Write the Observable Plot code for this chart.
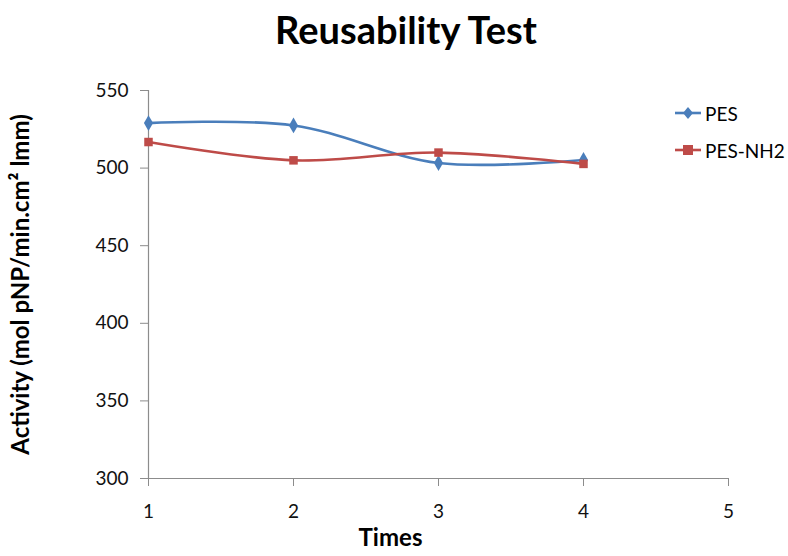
<!DOCTYPE html>
<html>
<head>
<meta charset="utf-8">
<script src="https://cdn.jsdelivr.net/npm/d3@7"></script>
<script src="https://cdn.jsdelivr.net/npm/@observablehq/plot@0.6"></script>
<style>
  html, body { margin: 0; padding: 0; background: #fff; }
  #wrap { position: relative; width: 788px; height: 556px; font-family: Lato, "Open Sans", sans-serif; overflow: hidden; }
  #title { position: absolute; left: 0; top: 6px; width: 812px; text-align: center; font-weight: bold; font-size: 38px; line-height: 46px; color: #000; }
  #chart { position: absolute; left: 0; top: 60px; }
  #legend { position: absolute; left: 674px; top: 99px; font-size: 19px; color: #000; }
  .li { display: flex; align-items: center; height: 28px; margin-bottom: 9px; }
  .li svg { margin-right: 3px; }
</style>
</head>
<body>
<div id="wrap">
  <div id="title">Reusability Test</div>
  <div id="chart"></div>
  <div id="legend"></div>
</div>
<script>
const titleText = "Reusability Test";
const xLabel = "Times";
const yLabel = "Activity (mol pNP/min.cm² lmm)";
const times = [1, 2, 3, 4];
const pes = [529, 527.5, 503.3, 505.2];
const pesNH2 = [516.8, 505, 510, 502.7];
const seriesNames = ["PES", "PES-NH2"];
const seriesColors = ["#4A7EBB", "#BE4B48"];
const seriesSymbols = ["diamond", "square"];
const xTicks = [1, 2, 3, 4, 5];
const yTicks = [300, 350, 400, 450, 500, 550];

document.getElementById("title").textContent = titleText;

const rows = [];
times.forEach((t, i) => rows.push({series: seriesNames[0], time: t, value: pes[i]}));
times.forEach((t, i) => rows.push({series: seriesNames[1], time: t, value: pesNH2[i]}));

const axisColor = "#8C8C8C";
const chart = Plot.plot({
  width: 788,
  height: 496,
  marginLeft: 148,
  marginRight: 60,
  marginTop: 30,
  marginBottom: 78,
  style: {fontFamily: "Lato, 'Open Sans', sans-serif", fontSize: "19px", color: "#000", background: "#fff", overflow: "visible"},
  x: {domain: [1, 5], ticks: xTicks, label: null},
  y: {domain: [300, 550], ticks: yTicks, label: null},
  color: {domain: seriesNames, range: seriesColors},
  symbol: {domain: seriesNames, range: seriesSymbols},
  marks: [
    Plot.axisX({ticks: xTicks, tickSize: 8, tickPadding: 18, fontSize: 19, stroke: axisColor, tickFormat: d => String(d), label: null, fill: "#111"}),
    Plot.axisY({ticks: yTicks, tickSize: 8, tickPadding: 12, fontSize: 19, stroke: axisColor, tickFormat: d => String(d), label: null, fill: "#111"}),
    Plot.ruleX([1], {stroke: axisColor, strokeWidth: 1.2}),
    Plot.ruleY([300], {stroke: axisColor, strokeWidth: 1.2}),
    Plot.line(rows, {x: "time", y: "value", z: "series", stroke: "series", strokeWidth: 2.6, curve: "catmull-rom"}),
    Plot.dot(rows, {x: "time", y: "value", fill: "series", symbol: "series", r: 4.8, stroke: "none"}),
    Plot.text([xLabel], {text: d => d, frameAnchor: "bottom", dy: 67, dx: -48, fontWeight: "bold", fontSize: 24, fill: "#000"}),
    Plot.text([yLabel], {text: d => d, frameAnchor: "left", textAnchor: "middle", dx: -127, rotate: -90, fontWeight: "bold", fontSize: 24, fill: "#000"})
  ]
});
document.getElementById("chart").appendChild(chart);

const legend = document.getElementById("legend");
seriesNames.forEach((name, i) => {
  const item = document.createElement("div");
  item.className = "li";
  const marker = seriesSymbols[i] === "square"
    ? `<rect x="9" y="4" width="10" height="10" fill="${seriesColors[i]}"/>`
    : `<path d="M14,3 L19,9 L14,15 L9,9Z" fill="${seriesColors[i]}"/>`;
  item.innerHTML = `<svg width="28" height="18"><line x1="1" x2="27" y1="9" y2="9" stroke="${seriesColors[i]}" stroke-width="2.6"/>${marker}</svg><span>${name}</span>`;
  legend.appendChild(item);
});
</script>
</body>
</html>
